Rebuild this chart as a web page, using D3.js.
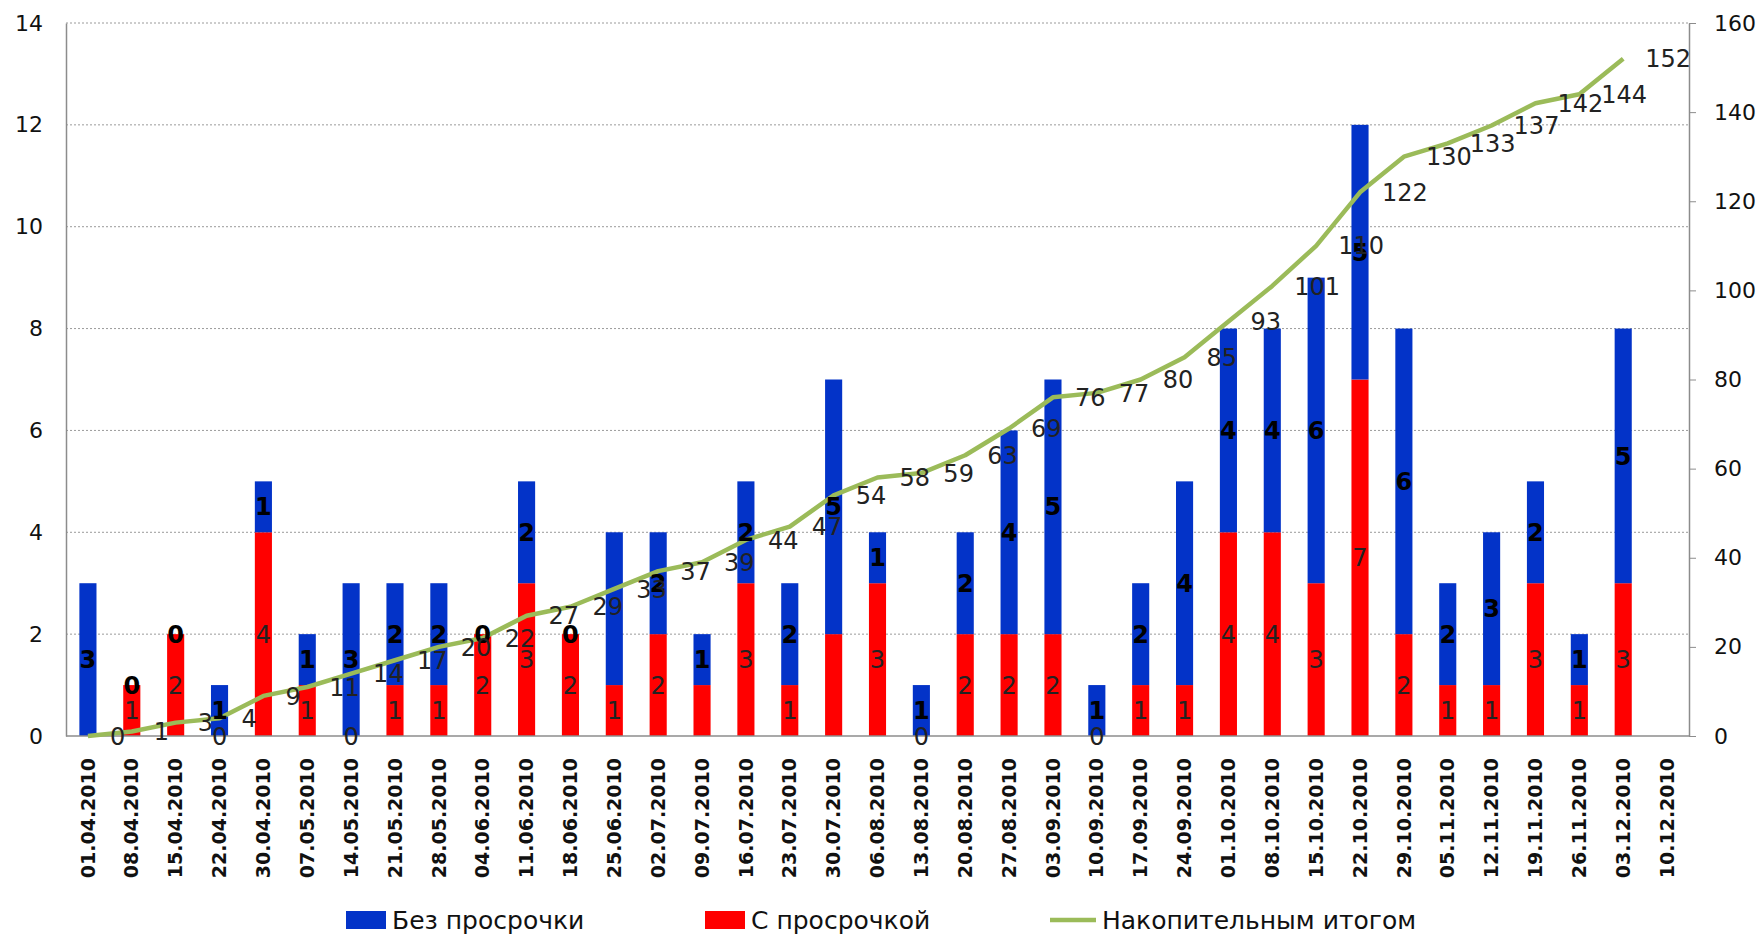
<!DOCTYPE html>
<html>
<head>
<meta charset="utf-8">
<script src="https://cdn.jsdelivr.net/npm/d3@7"></script>
<style>
  body { margin: 0; background: #fff; }
  text { font-family: "DejaVu Sans", Verdana, sans-serif; }
</style>
</head>
<body>
<div id="chart"></div>
<script>
// Weeks (category axis)
var dates = ["01.04.2010", "08.04.2010", "15.04.2010", "22.04.2010", "30.04.2010", "07.05.2010",
    "14.05.2010", "21.05.2010", "28.05.2010", "04.06.2010", "11.06.2010", "18.06.2010",
    "25.06.2010", "02.07.2010", "09.07.2010", "16.07.2010", "23.07.2010", "30.07.2010",
    "06.08.2010", "13.08.2010", "20.08.2010", "27.08.2010", "03.09.2010", "10.09.2010",
    "17.09.2010", "24.09.2010", "01.10.2010", "08.10.2010", "15.10.2010", "22.10.2010",
    "29.10.2010", "05.11.2010", "12.11.2010", "19.11.2010", "26.11.2010", "03.12.2010",
    "10.12.2010"];

// С просрочкой (bottom, red)
var lateValues = [0, 1, 2, 0, 4, 1, 0, 1, 1, 2, 3, 2, 1, 2, 1, 3, 1, 2, 3, 0, 2, 2, 2, 0,
    1, 1, 4, 4, 3, 7, 2, 1, 1, 3, 1, 3, null];

// Без просрочки (top, blue)
var onTimeValues = [3, 0, 0, 1, 1, 1, 3, 2, 2, 0, 2, 0, 3, 2, 1, 2, 2, 5, 1, 1, 2, 4, 5, 1,
    2, 4, 4, 4, 6, 5, 6, 2, 3, 2, 1, 5, null];

// Накопительным итогом (right axis)
var totalValues = [0, 1, 3, 4, 9, 11, 14, 17, 20, 22, 27, 29, 33, 37, 39, 44, 47, 54, 58, 59,
    63, 69, 76, 77, 80, 85, 93, 101, 110, 122, 130, 133, 137, 142, 144, 152];

// Labels as they appear on the bars ("" = not shown)
var lateLabels = ["", "1", "2", "0", "4", "1", "0", "1", "1", "2", "3", "2", "1", "2", "", "3",
    "1", "", "3", "0", "2", "2", "2", "0", "1", "1", "4", "4", "3", "7", "2", "1", "1", "3",
    "1", "3", ""];
var onTimeLabels = ["3", "0", "0", "1", "1", "1", "3", "2", "2", "0", "2", "0", "", "2", "1",
    "2", "2", "5", "1", "1", "2", "4", "5", "1", "2", "4", "4", "4", "6", "5", "6", "2", "3",
    "2", "1", "5", ""];

var leftTicks = [0, 2, 4, 6, 8, 10, 12, 14];
var rightTicks = [0, 20, 40, 60, 80, 100, 120, 140, 160];

var seriesNames = ["Без просрочки", "С просрочкой", "Накопительным итогом"];

var W = 1761, H = 937;
var plotLeft = 66, plotRight = 1689, plotTop = 23, plotBottom = 736;

var svg = d3.select("#chart")
    .append("svg")
    .attr("width", W)
    .attr("height", H);

var x = d3.scaleBand().domain(dates).range([plotLeft, plotRight]).paddingInner(0.61).paddingOuter(0.305);
var y = d3.scaleLinear().domain([0, 14]).range([plotBottom, plotTop]);
var y2 = d3.scaleLinear().domain([0, 160]).range([plotBottom, plotTop]);

function cx(i) { return x(dates[i]) + x.bandwidth() / 2; }

// dotted gridlines
svg.append("g")
    .selectAll("line")
    .data(leftTicks.slice(1))
    .enter().append("line")
    .attr("x1", plotLeft).attr("x2", plotRight)
    .attr("y1", function(d) { return y(d); })
    .attr("y2", function(d) { return y(d); })
    .attr("stroke", "#9a9a9a")
    .attr("stroke-width", 1)
    .attr("stroke-dasharray", "2,2");

// left axis
var axL = svg.append("g")
    .attr("transform", "translate(" + plotLeft + ",0)")
    .call(d3.axisLeft(y).tickValues(leftTicks).tickSize(0).tickPadding(23));
axL.select(".domain").attr("stroke", "#8c8c8c").attr("stroke-width", 1.5);
axL.selectAll("text").style("font-size", "22px").attr("fill", "#111");

// right axis
var axR = svg.append("g")
    .attr("transform", "translate(" + plotRight + ",0)")
    .call(d3.axisRight(y2).tickValues(rightTicks).tickSize(7).tickSizeOuter(0).tickPadding(18));
axR.select(".domain").attr("stroke", "#8c8c8c").attr("stroke-width", 1.5);
axR.selectAll(".tick line").attr("stroke", "#8c8c8c");
axR.selectAll("text").style("font-size", "22px").attr("fill", "#111");

// stacked bars
var bars = svg.append("g");
bars.selectAll(".late")
    .data(dates)
    .enter().append("rect")
    .attr("class", "late")
    .attr("x", function(d) { return x(d); })
    .attr("width", x.bandwidth())
    .attr("y", function(d, i) { return y(lateValues[i] || 0); })
    .attr("height", function(d, i) { return y(0) - y(lateValues[i] || 0); })
    .attr("fill", "#ff0000");

bars.selectAll(".ontime")
    .data(dates)
    .enter().append("rect")
    .attr("class", "ontime")
    .attr("x", function(d) { return x(d); })
    .attr("width", x.bandwidth())
    .attr("y", function(d, i) { return y((lateValues[i] || 0) + (onTimeValues[i] || 0)); })
    .attr("height", function(d, i) { return y(0) - y(onTimeValues[i] || 0); })
    .attr("fill", "#0333c8");

// x axis line
svg.append("line")
    .attr("x1", plotLeft).attr("x2", plotRight)
    .attr("y1", plotBottom).attr("y2", plotBottom)
    .attr("stroke", "#8c8c8c").attr("stroke-width", 1.5);

// category labels, rotated
svg.append("g")
    .selectAll("text")
    .data(dates)
    .enter().append("text")
    .attr("transform", function(d, i) { return "translate(" + cx(i) + "," + (plotBottom + 22) + ") rotate(-90)"; })
    .attr("text-anchor", "end")
    .attr("dy", "0.35em")
    .style("font-size", "19px")
    .style("font-weight", "bold")
    .attr("fill", "#111")
    .text(function(d) { return d; });

// cumulative line
var line = d3.line()
    .x(function(d, i) { return cx(i); })
    .y(function(d) { return y2(d); });

svg.append("path")
    .datum(totalValues)
    .attr("d", line)
    .attr("fill", "none")
    .attr("stroke", "#9bbb59")
    .attr("stroke-width", 4.5)
    .attr("stroke-linejoin", "round");

// bar labels
svg.append("g")
    .selectAll("text")
    .data(dates)
    .enter().append("text")
    .attr("x", function(d, i) { return cx(i); })
    .attr("y", function(d, i) { return y((lateValues[i] || 0) / 2); })
    .attr("text-anchor", "middle")
    .attr("dy", "0.36em")
    .style("font-size", "24px")
    .attr("fill", "#222")
    .text(function(d, i) { return lateLabels[i]; });

svg.append("g")
    .selectAll("text")
    .data(dates)
    .enter().append("text")
    .attr("x", function(d, i) { return cx(i); })
    .attr("y", function(d, i) { return y((lateValues[i] || 0) + (onTimeValues[i] || 0) / 2); })
    .attr("text-anchor", "middle")
    .attr("dy", "0.36em")
    .style("font-size", "24px")
    .style("font-weight", "bold")
    .attr("fill", "#000")
    .text(function(d, i) { return onTimeLabels[i]; });

// line labels, to the right of each point
svg.append("g")
    .selectAll("text")
    .data(totalValues)
    .enter().append("text")
    .attr("x", function(d, i) { return cx(i) + 22; })
    .attr("y", function(d) { return y2(d); })
    .attr("dy", "0.36em")
    .style("font-size", "24px")
    .attr("fill", "#222")
    .text(function(d) { return d; });

// legend
var legend = svg.append("g").attr("transform", "translate(0,920)");
var legendX = [346, 705, 1050];
legend.append("rect").attr("x", legendX[0]).attr("y", -9).attr("width", 40).attr("height", 18).attr("fill", "#0333c8");
legend.append("rect").attr("x", legendX[1]).attr("y", -9).attr("width", 40).attr("height", 18).attr("fill", "#ff0000");
legend.append("line").attr("x1", legendX[2]).attr("x2", legendX[2] + 46).attr("y1", 0).attr("y2", 0)
    .attr("stroke", "#9bbb59").attr("stroke-width", 4.5);
legend.selectAll(".lt")
    .data(seriesNames)
    .enter().append("text")
    .attr("x", function(d, i) { return legendX[i] + (i == 2 ? 52 : 46); })
    .attr("dy", "0.36em")
    .style("font-size", "25px")
    .attr("fill", "#111")
    .text(function(d) { return d; });
</script>
</body>
</html>
